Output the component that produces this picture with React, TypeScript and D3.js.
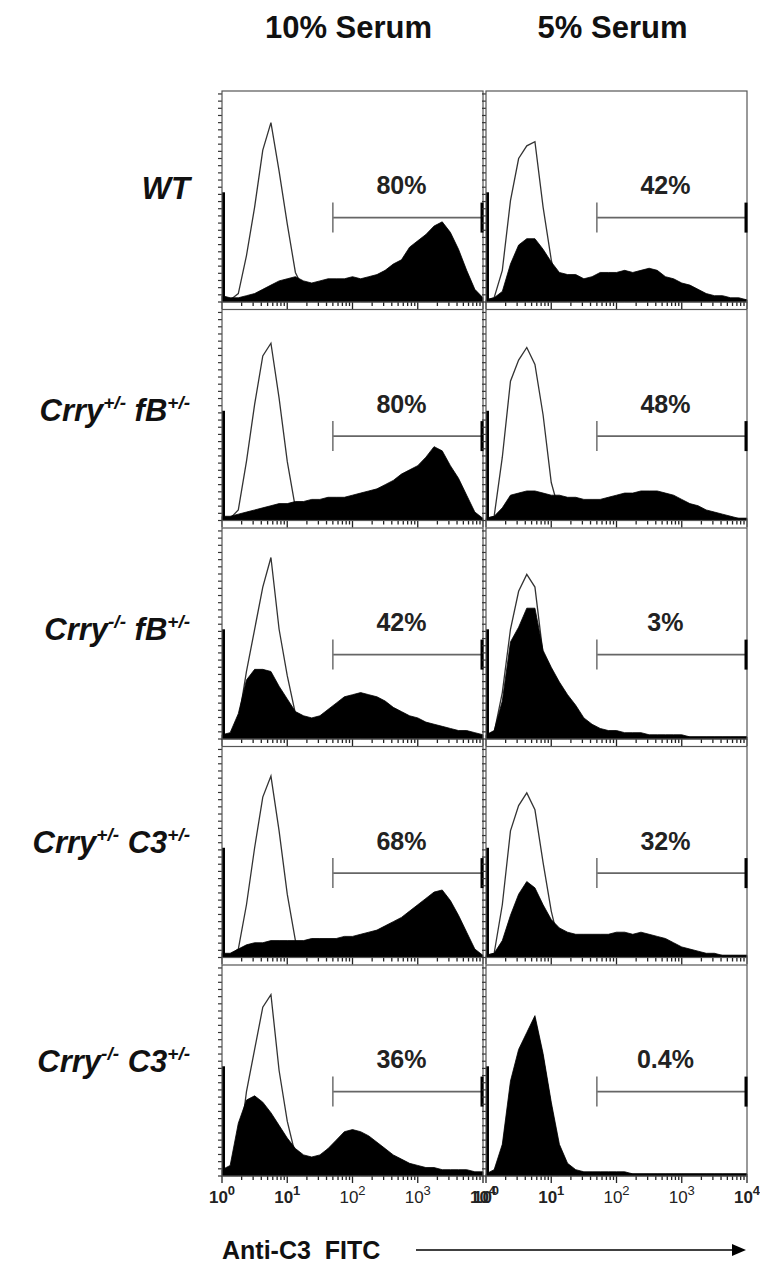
import React, { useEffect, useRef } from 'react';
import * as d3 from 'd3';

// channel positions, in decades of the log axis (10^0 .. 10^4)
const logChannels = [0, 0.125, 0.25, 0.375, 0.5, 0.625, 0.75, 0.875, 1, 1.125, 1.25, 1.375, 1.5, 1.625, 1.75, 1.875, 2, 2.125, 2.25, 2.375, 2.5, 2.625, 2.75, 2.875, 3, 3.125, 3.25, 3.375, 3.5, 3.625, 3.75, 3.875, 4];

const serumColumns = ['10% Serum', '5% Serum'];

const genoMain = ['WT', 'Crry', 'Crry', 'Crry', 'Crry'];
const genoSup = ['', '+/-', '-/-', '+/-', '-/-'];
const genoMain2 = ['', 'fB', 'fB', 'C3', 'C3'];
const genoSup2 = ['', '+/-', '+/-', '+/-', '+/-'];

const gated10 = ['80%', '80%', '42%', '68%', '36%'];
const gated5 = ['42%', '48%', '3%', '32%', '0.4%'];

const axisExponents = [0, 1, 2, 3, 4];

// % of max count, per channel
const wt10Open = [2, 1, 4, 22, 45, 72, 85, 62, 37, 14, 6, 2, 1, 1, 1, 1, 1, 1, 1, 1, 1, 1, 1, 1, 1, 1, 1, 1, 1, 1, 1, 1, 1];
const wt10Filled = [3, 2, 2, 3, 4, 6, 8, 10, 11, 12, 10, 9, 10, 11, 11, 11, 12, 11, 12, 13, 15, 18, 20, 26, 29, 32, 36, 38, 33, 25, 15, 6, 2];
const wt5Open = [1, 2, 15, 48, 68, 74, 76, 45, 20, 3, 1, 1, 1, 1, 1, 1, 1, 1, 1, 1, 1, 1, 1, 1, 1, 1, 1, 1, 1, 1, 1, 1, 1];
const wt5Filled = [1, 2, 5, 18, 27, 30, 30, 25, 19, 14, 13, 13, 11, 12, 14, 14, 14, 15, 14, 15, 16, 15, 12, 11, 9, 8, 6, 4, 3, 3, 2, 2, 1];

const hetFb10Open = [1, 1, 5, 28, 55, 78, 84, 58, 28, 6, 2, 1, 1, 1, 1, 1, 1, 1, 1, 1, 1, 1, 1, 1, 1, 1, 1, 1, 1, 1, 1, 1, 1];
const hetFb10Filled = [2, 2, 3, 4, 5, 6, 7, 8, 8, 9, 9, 10, 10, 11, 11, 11, 12, 13, 14, 15, 17, 19, 22, 24, 26, 30, 35, 33, 26, 20, 12, 4, 1];
const hetFb5Open = [1, 2, 30, 66, 76, 82, 74, 50, 18, 4, 1, 1, 1, 1, 1, 1, 1, 1, 1, 1, 1, 1, 1, 1, 1, 1, 1, 1, 1, 1, 1, 1, 1];
const hetFb5Filled = [1, 2, 6, 12, 13, 14, 14, 13, 12, 12, 11, 11, 10, 10, 10, 11, 12, 13, 13, 14, 14, 14, 13, 12, 10, 8, 7, 5, 4, 3, 2, 1, 1];

const koFb10Open = [1, 1, 8, 32, 52, 72, 86, 52, 30, 12, 4, 1, 1, 1, 1, 1, 1, 1, 1, 1, 1, 1, 1, 1, 1, 1, 1, 1, 1, 1, 1, 1, 1];
const koFb10Filled = [2, 3, 12, 28, 33, 33, 32, 25, 19, 13, 11, 10, 11, 14, 17, 20, 21, 22, 21, 20, 18, 15, 13, 11, 10, 8, 7, 6, 5, 4, 4, 3, 2];
const koFb5Open = [1, 3, 22, 52, 70, 78, 72, 40, 30, 20, 10, 4, 1, 1, 1, 1, 1, 1, 1, 1, 1, 1, 1, 1, 1, 1, 1, 1, 1, 1, 1, 1, 1];
const koFb5Filled = [2, 4, 18, 46, 53, 62, 62, 42, 34, 27, 21, 16, 10, 7, 5, 4, 4, 3, 3, 3, 2, 2, 2, 2, 2, 1, 1, 1, 1, 1, 1, 1, 1];

const hetC310Open = [1, 1, 4, 25, 52, 76, 86, 60, 30, 8, 2, 1, 1, 1, 1, 1, 1, 1, 1, 1, 1, 1, 1, 1, 1, 1, 1, 1, 1, 1, 1, 1, 1];
const hetC310Filled = [2, 2, 4, 6, 7, 7, 8, 8, 8, 8, 8, 9, 9, 9, 9, 10, 10, 11, 12, 13, 15, 17, 19, 22, 25, 28, 31, 32, 27, 20, 12, 4, 1];
const hetC35Open = [1, 2, 25, 60, 72, 78, 70, 45, 22, 6, 1, 1, 1, 1, 1, 1, 1, 1, 1, 1, 1, 1, 1, 1, 1, 1, 1, 1, 1, 1, 1, 1, 1];
const hetC35Filled = [1, 2, 8, 20, 30, 36, 33, 25, 18, 14, 12, 11, 11, 11, 11, 11, 12, 12, 11, 12, 11, 10, 9, 7, 5, 4, 3, 2, 2, 1, 1, 1, 1];

const koC310Open = [1, 1, 10, 40, 60, 80, 86, 50, 26, 10, 3, 1, 1, 1, 1, 1, 1, 1, 1, 1, 1, 1, 1, 1, 1, 1, 1, 1, 1, 1, 1, 1, 1];
const koC310Filled = [3, 5, 25, 36, 38, 35, 30, 24, 18, 13, 10, 9, 10, 13, 17, 21, 22, 21, 19, 16, 13, 10, 8, 6, 5, 4, 4, 3, 3, 3, 3, 2, 2];
const koC35Open = [1, 2, 12, 40, 58, 66, 74, 56, 33, 12, 4, 1, 1, 1, 1, 1, 1, 1, 1, 1, 1, 1, 1, 1, 1, 1, 1, 1, 1, 1, 1, 1, 1];
const koC35Filled = [1, 3, 15, 45, 60, 68, 76, 58, 35, 15, 6, 3, 2, 2, 2, 2, 2, 2, 1, 1, 1, 1, 1, 1, 1, 1, 1, 1, 1, 1, 1, 1, 1];

const gateStart = 50; // fluorescence where the marker starts
const gateLevel = 40; // marker height, % of max
const pileLevel = 52; // events piled up in channel 0

const panelLeft = [222, 486];
const panelW = 261;
const panelH = 211;
const firstTop = 91;
const rowStep = 218.5;
const labelBaselines = [199, 421, 640, 853, 1072];

const App = () => {
  const svgRef = useRef<SVGSVGElement>(null);

  useEffect(() => {
    const svg = d3.select(svgRef.current);
    svg.selectAll('*').remove();

    const rows = [
      [[wt10Open, wt10Filled], [wt5Open, wt5Filled]],
      [[hetFb10Open, hetFb10Filled], [hetFb5Open, hetFb5Filled]],
      [[koFb10Open, koFb10Filled], [koFb5Open, koFb5Filled]],
      [[hetC310Open, hetC310Filled], [hetC35Open, hetC35Filled]],
      [[koC310Open, koC310Filled], [koC35Open, koC35Filled]],
    ];

    const x = d3.scaleLog().domain([1, 10000]).range([0, panelW]);
    const y = d3.scaleLinear().domain([0, 100]).range([panelH, 0]);
    const xc = (i: number) => x(Math.pow(10, logChannels[i]));

    const line = d3.line<number>()
      .x((d, i) => xc(i))
      .y(d => y(d));
    const area = d3.area<number>()
      .x((d, i) => xc(i))
      .y0(y(0))
      .y1(d => y(d));

    const font = 'Arial, "Liberation Sans", Helvetica, sans-serif';

    // column headers
    serumColumns.forEach((t, c) => {
      svg.append('text')
        .attr('x', panelLeft[c] + panelW / 2 - 4)
        .attr('y', 38)
        .attr('text-anchor', 'middle')
        .attr('font-family', font)
        .attr('font-weight', 'bold')
        .attr('font-size', 31)
        .attr('fill', '#111')
        .text(t);
    });

    rows.forEach((cols, r) => {
      const top = firstTop + r * rowStep;

      // genotype label
      const lab = svg.append('text')
        .attr('x', 190)
        .attr('y', labelBaselines[r])
        .attr('text-anchor', 'end')
        .attr('font-family', font)
        .attr('font-weight', 'bold')
        .attr('font-style', 'italic')
        .attr('font-size', 31)
        .attr('fill', '#111');
      lab.append('tspan').text(genoMain[r]);
      if (genoSup[r]) {
        lab.append('tspan').attr('font-size', 19).attr('dy', -12).text(genoSup[r]);
        lab.append('tspan').attr('dy', 12).text(' ' + genoMain2[r]);
        lab.append('tspan').attr('font-size', 19).attr('dy', -12).text(genoSup2[r]);
      }

      cols.forEach(([open, filled], c) => {
        const g = svg.append('g')
          .attr('transform', `translate(${panelLeft[c]},${top})`);

        g.append('rect')
          .attr('width', panelW)
          .attr('height', panelH)
          .attr('fill', '#fff');

        g.append('path')
          .datum(open)
          .attr('fill', 'none')
          .attr('stroke', '#333')
          .attr('stroke-width', 1.3)
          .attr('d', line);

        g.append('path')
          .datum(filled)
          .attr('fill', '#000')
          .attr('stroke', '#000')
          .attr('stroke-width', 0.8)
          .attr('d', area);

        // channel-0 pile
        g.append('line')
          .attr('x1', 1.5).attr('x2', 1.5)
          .attr('y1', y(0)).attr('y2', y(pileLevel))
          .attr('stroke', '#000')
          .attr('stroke-width', 3);

        // left ticks
        g.selectAll('.yt')
          .data(d3.range(0, 100, 3.4))
          .enter().append('line')
          .attr('x1', -4).attr('x2', 0)
          .attr('y1', d => y(d)).attr('y2', d => y(d))
          .attr('stroke', '#333')
          .attr('stroke-width', 1.2);

        // bottom ticks
        g.selectAll('.xt')
          .data(x.ticks())
          .enter().append('line')
          .attr('x1', d => x(d)).attr('x2', d => x(d))
          .attr('y1', panelH)
          .attr('y2', d => panelH + (Math.log10(d) % 1 === 0 ? 7 : 4))
          .attr('stroke', '#222')
          .attr('stroke-width', 1.3);

        g.append('rect')
          .attr('width', panelW)
          .attr('height', panelH)
          .attr('fill', 'none')
          .attr('stroke', '#555')
          .attr('stroke-width', 1.2);

        // gate marker
        const gy = y(gateLevel);
        g.append('line')
          .attr('x1', x(gateStart)).attr('x2', panelW - 1)
          .attr('y1', gy).attr('y2', gy)
          .attr('stroke', '#666')
          .attr('stroke-width', 1.6);
        g.append('line')
          .attr('x1', x(gateStart)).attr('x2', x(gateStart))
          .attr('y1', gy - 15).attr('y2', gy + 15)
          .attr('stroke', '#777')
          .attr('stroke-width', 1.6);
        g.append('line')
          .attr('x1', panelW - 1).attr('x2', panelW - 1)
          .attr('y1', gy - 15).attr('y2', gy + 15)
          .attr('stroke', '#000')
          .attr('stroke-width', 3);

        g.append('text')
          .attr('x', x(Math.pow(10, 2.75)))
          .attr('y', y(51))
          .attr('text-anchor', 'middle')
          .attr('font-family', font)
          .attr('font-weight', 'bold')
          .attr('font-size', 25)
          .attr('fill', '#222')
          .text(c === 0 ? gated10[r] : gated5[r]);

        // decade labels on the bottom row only
        if (r === rows.length - 1) {
          axisExponents.forEach(e => {
            const t = g.append('text')
              .attr('x', x(Math.pow(10, e)))
              .attr('y', panelH + 27)
              .attr('text-anchor', 'middle')
              .attr('font-family', font)
              .attr('font-weight', e === 2 || e === 3 ? 'normal' : 'bold')
              .attr('font-size', 17)
              .attr('fill', '#222');
            t.append('tspan').text('10');
            t.append('tspan').attr('font-size', 13).attr('dy', -8).text(String(e));
          });
        }
      });
    });

    // x-axis title with arrow
    svg.append('text')
      .attr('x', 222)
      .attr('y', 1259)
      .attr('font-family', font)
      .attr('font-weight', 'bold')
      .attr('font-size', 25)
      .attr('fill', '#111')
      .style('white-space', 'pre')
      .text('Anti-C3  FITC');
    svg.append('line')
      .attr('x1', 416).attr('x2', 736)
      .attr('y1', 1250).attr('y2', 1250)
      .attr('stroke', '#000')
      .attr('stroke-width', 1.5);
    svg.append('path')
      .attr('d', 'M732,1244 L746,1250 L732,1256 Z')
      .attr('fill', '#000');
  }, []);

  return (
    <svg ref={svgRef} width={760} height={1280}
      style={{ position: 'absolute', left: 0, top: 0, background: '#fff' }} />
  );
};

export default App;
